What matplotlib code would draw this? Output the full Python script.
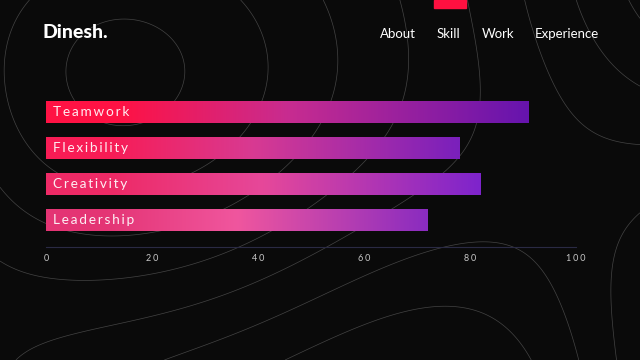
import numpy as np
import matplotlib
matplotlib.use("Agg")
import matplotlib.pyplot as plt
from matplotlib.colors import LinearSegmentedColormap

skills = ["Teamwork", "Flexibility", "Creativity", "Leadership"]
levels = [91, 78, 82, 72]
ticks = [0, 20, 40, 60, 80, 100]
nav_items = ["About", "Skill", "Work", "Experience"]
nav_x = [380, 437, 482, 535]

BG = "#0a0a0a"
HS = "\u200a"  # hair space used for letter spacing


def spaced(s, n=1):
    return (HS * n).join(s)


fig = plt.figure(figsize=(6.4, 3.6), dpi=100, facecolor=BG)

# decorative topographic lines in the background
bg = fig.add_axes([0, 0, 1, 1], zorder=0)
bg.set_facecolor(BG)
gx, gy = np.meshgrid(np.linspace(0, 6.4, 300), np.linspace(0, 3.6, 200))
field = (np.sin(gx * 0.7 + gy * 0.5) + 0.7 * np.cos(gx * 0.35 - gy * 0.9)
         + 0.3 * np.sin(gx * 1.2 + 1.3) * np.cos(gy * 0.7))
bg.contour(gx, gy, field, levels=7, colors="#444444", linewidths=0.5,
           linestyles="solid")
bg.set_xlim(0, 6.4)
bg.set_ylim(3.6, 0)
bg.axis("off")

# header
fig.text(42 / 640, 1 - 32 / 360, "Dinesh.", color="white", fontsize=14,
         fontweight="black", family=["Lato", "DejaVu Sans"], va="center")
for label, px in zip(nav_items, nav_x):
    fig.text(px / 640, 1 - 34 / 360, label, color="white", fontsize=9.5,
             family=["Lato", "DejaVu Sans"], va="center")
fig.patches.append(plt.Rectangle((434 / 640, 1 - 8 / 360), 32 / 640, 8 / 360,
                                 transform=fig.transFigure, color="#ff1040",
                                 zorder=3))

# skill chart
ax = fig.add_axes([46 / 640, 1 - 247 / 360, 530 / 640, 162 / 360], zorder=1)
ax.patch.set_alpha(0)
ypos = np.arange(len(skills))
bars = ax.barh(ypos, levels, height=0.6, color="none", edgecolor="none")

starts = ["#ff1244", "#f81c55", "#ee2a66", "#e43474"]
mids = ["#c82c90", "#d83a92", "#e6489a", "#f0569e"]
ends = ["#6614ae", "#7a20bc", "#7e24cc", "#8a2cc0"]
for bar, c0, cm, c1, name in zip(bars, starts, mids, ends, skills):
    x0, y0, w, h = bar.get_x(), bar.get_y(), bar.get_width(), bar.get_height()
    cmap = LinearSegmentedColormap.from_list(
        name, [(0, c0), (0.15, c0), (0.5, cm), (1, c1)])
    grad = np.linspace(0, 1, 256).reshape(1, -1)
    im = ax.imshow(grad, extent=[x0, x0 + w, y0 + h, y0], aspect="auto",
                   cmap=cmap, zorder=2)
    im.set_clip_path(bar)
    ax.text(x0 + 1.4, y0 + h / 2, spaced(name, 2), color="white", alpha=0.92,
            fontsize=9.8, va="center", ha="left", zorder=3,
            family=["Lato", "DejaVu Sans"])

ax.set_xlim(0, 100)
ax.set_ylim(len(skills) - 0.25, -0.75)
ax.set_xticks(ticks)
ax.set_xticklabels([spaced(str(t), 3) for t in ticks], color="#c8c8c8",
                   fontsize=6.5, family=["Lato", "DejaVu Sans"])
ax.tick_params(axis="x", length=0, pad=5)
ax.set_yticks([])
for side in ["top", "left", "right"]:
    ax.spines[side].set_visible(False)
ax.spines["bottom"].set_color("#2a2a44")
ax.spines["bottom"].set_linewidth(0.8)

fig.savefig("out.png", dpi=100, facecolor=BG)
